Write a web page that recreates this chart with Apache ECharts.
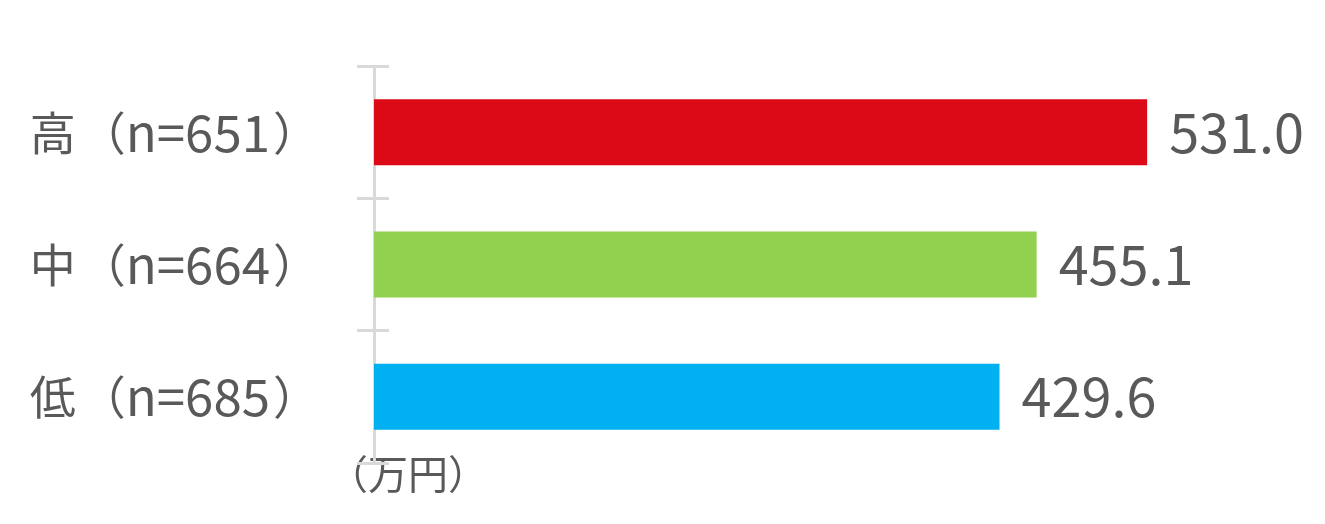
<!DOCTYPE html>
<html><head><meta charset="utf-8">
<script src="https://cdn.jsdelivr.net/npm/echarts@6/dist/echarts.min.js"></script>
<style>html,body{margin:0;padding:0;background:#fff}#c{width:1325px;height:524px}</style>
</head><body><div id="c"></div>
<script>
const levels = ['高', '中', '低'];
const sampleSizes = ['651', '664', '685'];
const categories = levels.map((l, i) => l + '（n=' + sampleSizes[i] + '）');
const values = [531.0, 455.1, 429.6];
const barColors = ['#DC0A17', '#92D050', '#00B0F0'];
const unitLabel = '（万円）';

const chart = echarts.init(document.getElementById('c'));
const font = '"Noto Sans CJK JP", "Noto Sans", sans-serif';
chart.setOption({
  animation: false,
  grid: { left: 374, right: 77.4, top: 66, bottom: 61 },
  xAxis: { type: 'value', min: 0, max: 600, show: false },
  yAxis: [
    {
      type: 'category', data: categories, inverse: true,
      axisLine: { lineStyle: { color: '#D9D9D9', width: 3 } },
      axisTick: { show: true, length: 17, lineStyle: { color: '#D9D9D9', width: 3 } },
      axisLabel: {
        margin: 55,
        formatter: (v, i) => '{c|' + levels[i] + '}{p|（}{a|n=' + sampleSizes[i] + '}{p|）}',
        rich: {
          c: { fontFamily: font, fontSize: 46, color: '#595959', padding: [0, 4, 0, 0] },
          p: { fontFamily: font, fontSize: 46, color: '#595959' },
          a: { fontFamily: font, fontSize: 51, color: '#595959', padding: [0, 3, 0, 0] }
        }
      }
    },
    {
      type: 'category', data: categories, inverse: true, position: 'left',
      axisLine: { show: false },
      axisTick: { show: true, inside: true, length: 15, lineStyle: { color: '#D9D9D9', width: 3 } },
      axisLabel: { show: false }
    }
  ],
  series: [{
    type: 'bar',
    data: values.map((v, i) => ({ value: v, itemStyle: { color: barColors[i] } })),
    barWidth: 66,
    label: {
      show: true, position: 'right', distance: 22,
      formatter: p => p.value.toFixed(1),
      fontFamily: font, fontSize: 54, color: '#595959'
    }
  }],
  graphic: [{
    type: 'text', left: 328, top: 454,
    style: { text: unitLabel, font: '40px ' + font, fill: '#595959' }
  }]
});
</script></body></html>
